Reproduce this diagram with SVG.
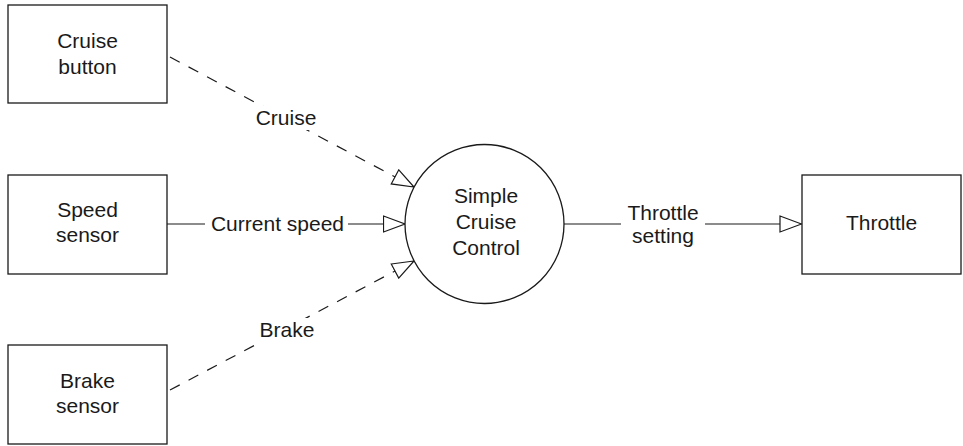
<svg xmlns="http://www.w3.org/2000/svg" width="963" height="446" viewBox="0 0 963 446">
<style>
.box{fill:#fff;stroke:#1a1a1a;stroke-width:1.3}
.t{font-family:"Liberation Sans",Arial,sans-serif;font-size:21px;fill:#1a1a1a;text-anchor:middle}
.ln{stroke:#1a1a1a;stroke-width:1.2;fill:none}
.dash{stroke-dasharray:11 10}
.bg{fill:#fff}
</style>
<defs>
<marker id="arr" viewBox="0 0 24 18" refX="22.5" refY="9" markerWidth="24" markerHeight="18" markerUnits="userSpaceOnUse" orient="auto">
<path d="M1,1 L22.5,9 L1,17 Z" fill="#fff" stroke="#1a1a1a" stroke-width="1.2"/>
</marker>
</defs>
<rect width="963" height="446" fill="#fff"/>
<g id="connectors">
<line class="ln dash" x1="170" y1="57" x2="414" y2="187" marker-end="url(#arr)"/>
<line class="ln" x1="167" y1="224" x2="405" y2="224" marker-end="url(#arr)"/>
<line class="ln dash" x1="170" y1="390" x2="414" y2="261" marker-end="url(#arr)"/>
<line class="ln" x1="564" y1="224" x2="801.5" y2="224" marker-end="url(#arr)"/>
<rect class="bg" x="253" y="106" width="66" height="24"/>
<text class="t" x="286" y="125">Cruise</text>
<rect class="bg" x="205" y="212" width="143" height="24"/>
<text class="t" x="277.5" y="231">Current speed</text>
<rect class="bg" x="257" y="318" width="60" height="24"/>
<text class="t" x="287" y="337">Brake</text>
<rect class="bg" x="621" y="200" width="84" height="48"/>
<text class="t" x="663" y="220">Throttle</text>
<text class="t" x="663" y="243">setting</text>
</g>
<g id="cruise-button">
<rect class="box" x="8" y="5" width="159" height="98"/>
<text class="t" x="87.5" y="48">Cruise</text>
<text class="t" x="87.5" y="74">button</text>
</g>
<g id="speed-sensor">
<rect class="box" x="8" y="175" width="159" height="99"/>
<text class="t" x="87.5" y="217">Speed</text>
<text class="t" x="87.5" y="242">sensor</text>
</g>
<g id="brake-sensor">
<rect class="box" x="8" y="345" width="159" height="99"/>
<text class="t" x="87.5" y="388">Brake</text>
<text class="t" x="87.5" y="413">sensor</text>
</g>
<g id="simple-cruise-control">
<circle class="box" cx="484.5" cy="224" r="79.5"/>
<text class="t" x="486" y="203">Simple</text>
<text class="t" x="486" y="229">Cruise</text>
<text class="t" x="486" y="255">Control</text>
</g>
<g id="throttle">
<rect class="box" x="802" y="175" width="159" height="99"/>
<text class="t" x="881.5" y="230">Throttle</text>
</g>
</svg>
